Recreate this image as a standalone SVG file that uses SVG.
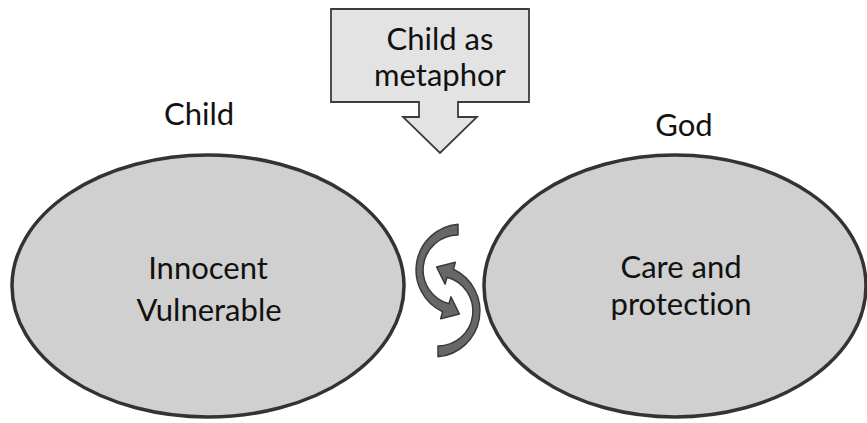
<svg xmlns="http://www.w3.org/2000/svg" width="867" height="423" viewBox="0 0 867 423">
<style>
.t{font-family:Lato,"Liberation Sans",Arial,sans-serif;font-size:31px;fill:#111;text-anchor:middle;font-variant-ligatures:none;font-feature-settings:"liga" 0}
.ell{fill:#d0d0d0;stroke:#333;stroke-width:3.5}
.arr{fill:#676767;stroke:#3a3a3a;stroke-width:1.5;stroke-linejoin:round}
</style>
<rect width="867" height="423" fill="#fff"/>
<g id="callout">
<path d="M331 9H529V102H458V117H477L440 153L403 117H419V102H331Z" fill="#e3e3e3" stroke="#3c3c3c" stroke-width="1.8"/>
<text class="t" x="440" y="50">Child as</text>
<text class="t" x="440" y="86">metaphor</text>
</g>
<g id="label-child"><text class="t" x="199" y="125">Child</text></g>
<g id="label-god"><text class="t" x="684" y="136">God</text></g>
<g id="child">
<ellipse class="ell" cx="208" cy="286" rx="196" ry="131"/>
<text class="t" x="208" y="279">Innocent</text>
<text class="t" x="209" y="321">Vulnerable</text>
</g>
<g id="god">
<ellipse class="ell" cx="675" cy="286" rx="191" ry="131"/>
<text class="t" x="681" y="278">Care and</text>
<text class="t" x="681" y="315">protection</text>
</g>
<g id="connectors">
<path id="arc1" class="arr" d="M458 224.2A46 46 0 0 0 442.6 311.7L440.7 318.7L459.4 314L450.9 296.9L449 303.8A35 35 0 0 1 458 235Z"/>
<path id="arc2" class="arr" transform="rotate(180 448 290.5)" d="M458 224.2A46 46 0 0 0 442.6 311.7L440.7 318.7L459.4 314L450.9 296.9L449 303.8A35 35 0 0 1 458 235Z"/>
</g>
</svg>
